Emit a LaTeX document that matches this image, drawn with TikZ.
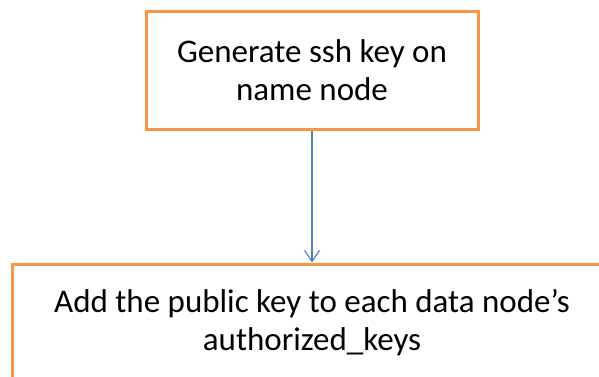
\documentclass[tikz,border=0pt]{standalone}
\usepackage{fontspec}
\setmainfont{Carlito}
\usepackage{xcolor}
\usepackage{tikz}
\usetikzlibrary{arrows.meta, positioning}

\definecolor{boxorange}{HTML}{F79646}
\definecolor{linkblue}{HTML}{4F81BD}

\begin{document}
\begin{tikzpicture}[
    x=1pt, y=1pt,
    font=\fontsize{33}{38}\selectfont,
    node distance=132pt,
    stepbox/.style={rectangle, draw=boxorange, line width=3pt, fill=white, align=center, inner sep=0pt},
    arr/.style={-{Straight Barb[length=11pt, width=15pt, line width=1.2pt]}, draw=linkblue, line width=1.2pt},
]
\useasboundingbox (0,0) rectangle (599,-377);

\node[stepbox, minimum width=332pt, minimum height=117pt] (genkey) at (312,-70.5) {Generate ssh key on\\name node};
\node[stepbox, minimum width=600pt, minimum height=117pt, below=of genkey] (addkey) {Add the public key to each data node's\\authorized\_keys};

\draw[arr] (genkey) -- (addkey);

\end{tikzpicture}
\end{document}
